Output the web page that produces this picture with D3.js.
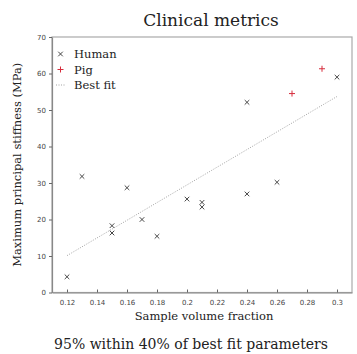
<!DOCTYPE html>
<html>
<head>
<meta charset="utf-8">
<script src="https://cdn.jsdelivr.net/npm/d3@7"></script>
<style>
  body { margin: 0; background: #fff; }
  svg { display: block; }
</style>
</head>
<body>
<div id="chart"></div>
<script>
// data
const humanX = [0.12, 0.13, 0.16, 0.15, 0.15, 0.17, 0.18, 0.20, 0.21, 0.21, 0.24, 0.26, 0.24, 0.30];
const humanY = [4.3, 31.8, 28.7, 18.3, 16.3, 20.0, 15.4, 25.6, 24.7, 23.4, 27.0, 30.2, 52.1, 59.0];
const pigX = [0.27, 0.29];
const pigY = [54.5, 61.3];
const fitX = [0.12, 0.30];
const fitY = [10.1, 53.7];
const xTicks = [0.12, 0.14, 0.16, 0.18, 0.2, 0.22, 0.24, 0.26, 0.28, 0.3];
const yTicks = [0, 10, 20, 30, 40, 50, 60, 70];
const legendItems = ["Human", "Pig", "Best fit"];

const width = 357, height = 354;
const margin = {top: 37, right: 5, bottom: 61.5, left: 52};
const serif = "'DejaVu Serif', serif";
const sans = "'DejaVu Sans', sans-serif";

const svg = d3.select("#chart").append("svg")
    .attr("width", width)
    .attr("height", height);

const x = d3.scaleLinear().domain([0.11, 0.31]).range([margin.left, width - margin.right]);
const y = d3.scaleLinear().domain([0, 70]).range([height - margin.bottom, margin.top]);

// frame
svg.append("rect")
    .attr("x", x(0.11)).attr("y", y(70))
    .attr("width", x(0.31) - x(0.11)).attr("height", y(0) - y(70))
    .attr("fill", "none").attr("stroke", "#aaa").attr("stroke-width", 1.2);

// x axis, ticks inward
const xAxis = svg.append("g")
    .attr("transform", "translate(0," + y(0) + ")")
    .call(d3.axisBottom(x).tickValues(xTicks).tickSizeInner(-3).tickSizeOuter(0).tickPadding(8).tickFormat(d3.format("")));
xAxis.select(".domain").attr("stroke", "#888").attr("stroke-width", 1.2);
xAxis.selectAll(".tick line").attr("stroke", "#666");
xAxis.selectAll("text").attr("fill", "#444").style("font-family", sans).style("font-size", "7px");

// y axis
const yAxis = svg.append("g")
    .attr("transform", "translate(" + x(0.11) + ",0)")
    .call(d3.axisLeft(y).tickValues(yTicks).tickSizeInner(3).tickSizeOuter(0).tickPadding(3));
yAxis.select(".domain").attr("stroke", "#888").attr("stroke-width", 1.2);
yAxis.selectAll(".tick line").attr("stroke", "#666");
yAxis.selectAll("text").attr("fill", "#444").style("font-family", sans).style("font-size", "7px");

// best fit
svg.append("line")
    .attr("x1", x(fitX[0])).attr("y1", y(fitY[0]))
    .attr("x2", x(fitX[1])).attr("y2", y(fitY[1]))
    .attr("stroke", "#999").attr("stroke-width", 0.9)
    .attr("stroke-dasharray", "1,1.5");

const s = 2.3;
function cross(g, cx, cy, color) {
  g.append("path")
    .attr("d", "M" + (cx - s) + "," + (cy - s) + "L" + (cx + s) + "," + (cy + s) +
               "M" + (cx - s) + "," + (cy + s) + "L" + (cx + s) + "," + (cy - s))
    .attr("stroke", color).attr("stroke-width", 0.9).attr("fill", "none");
}
function plus(g, cx, cy, color) {
  const p = 3;
  g.append("path")
    .attr("d", "M" + (cx - p) + "," + cy + "L" + (cx + p) + "," + cy +
               "M" + cx + "," + (cy - p) + "L" + cx + "," + (cy + p))
    .attr("stroke", color).attr("stroke-width", 1).attr("fill", "none");
}

const pts = svg.append("g");
humanX.forEach(function(d, i) { cross(pts, x(d), y(humanY[i]), "#333"); });
pigX.forEach(function(d, i) { plus(pts, x(d), y(pigY[i]), "#d62c3c"); });

// legend
const lg = svg.append("g");
const ly = [54, 69.5, 85];
cross(lg, 60.5, ly[0], "#333");
plus(lg, 60.5, ly[1], "#d62c3c");
lg.append("line").attr("x1", 56).attr("x2", 66).attr("y1", ly[2]).attr("y2", ly[2])
    .attr("stroke", "#999").attr("stroke-width", 0.9).attr("stroke-dasharray", "1,1.5");
lg.selectAll("text").data(legendItems).enter().append("text")
    .attr("x", 74).attr("y", function(d, i) { return ly[i] + 4; })
    .style("font-family", serif).style("font-size", "11.5px").attr("fill", "#222")
    .text(function(d) { return d; });

// titles
svg.append("text")
    .attr("x", 211).attr("y", 26)
    .attr("text-anchor", "middle")
    .style("font-family", serif).style("font-size", "17px").attr("fill", "#222")
    .text("Clinical metrics");

svg.append("text")
    .attr("x", 204).attr("y", 320)
    .attr("text-anchor", "middle")
    .style("font-family", serif).style("font-size", "11.5px").attr("fill", "#222")
    .text("Sample volume fraction");

svg.append("text")
    .attr("transform", "translate(21," + ((y(0) + y(70)) / 2) + ") rotate(-90)")
    .attr("text-anchor", "middle")
    .style("font-family", serif).style("font-size", "11.5px").attr("fill", "#222")
    .text("Maximum principal stiffness (MPa)");

svg.append("text")
    .attr("x", 191).attr("y", 349)
    .attr("text-anchor", "middle")
    .style("font-family", serif).style("font-size", "14px").attr("fill", "#222")
    .text("95% within 40% of best fit parameters");
</script>
</body>
</html>
